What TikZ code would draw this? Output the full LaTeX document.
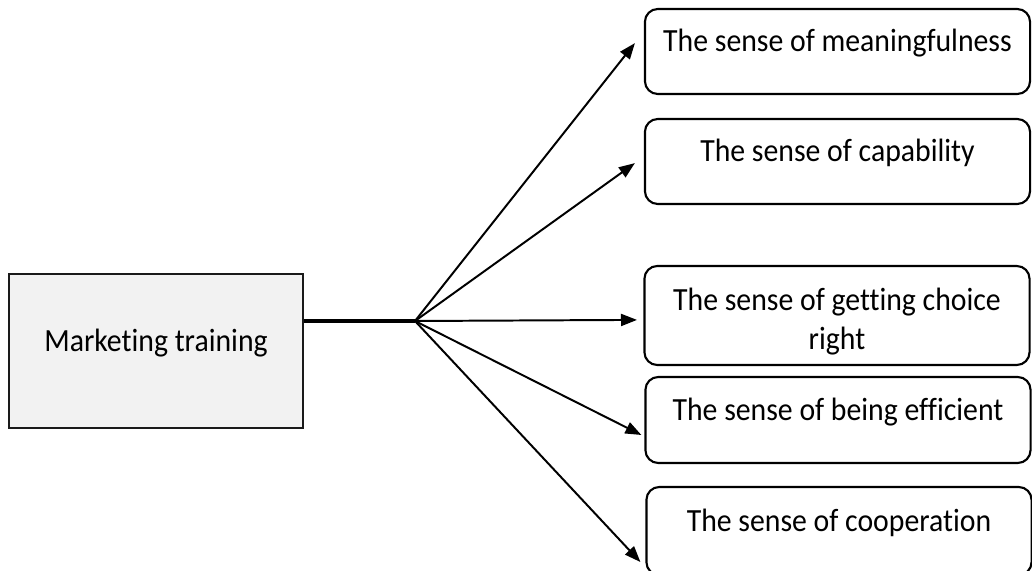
\documentclass[tikz,border=0pt]{standalone}
\usepackage{fontspec}
\setmainfont{Carlito}[FakeStretch=0.92, Ligatures={NoCommon}]
\usetikzlibrary{arrows.meta}
\definecolor{cInk}{HTML}{000000}
\definecolor{cEdge}{HTML}{1A1A1A}
\definecolor{cFill}{HTML}{F2F2F2}
\newcommand\sensefont{\fontsize{23pt}{27.2pt}\selectfont}
\tikzset{
  every picture/.style={line width=1pt},
  sensebox/.style={draw=cInk, line width=1.5pt, rounded corners=0.32cm,
              minimum width=9.625cm, text width=9.3cm, align=flush center,
              inner sep=0pt, font=\sensefont, text=cInk},
  onebox/.style={sensebox, text height=0.55cm, text depth=0.55cm},
  srcbox/.style={draw=cEdge, fill=cFill, line width=1.5pt, minimum width=7.35cm,
              minimum height=3.85cm, inner sep=0pt, font=\sensefont,
              text height=0.55cm, text depth=0.55cm},
  flow/.style={-{Triangle[length=0.4cm,width=0.3cm]}, draw=cInk, line width=1.4pt},
}

\begin{document}
\begin{tikzpicture}[x=0.025cm, y=-0.025cm]
\useasboundingbox (0,0) rectangle (1032,571);
\clip (0,0) rectangle (1032,571);

% source
\node[srcbox] (train) at (156,351) {Marketing training};
\coordinate (hub) at (415,321);

% the five senses
\node[onebox, minimum height=2.125cm] (m1) at (837.5,51.5) {The sense of meaningfulness};
\node[onebox, minimum height=2.125cm] (m2) at (837.5,161.5) {The sense of capability};
\node[sensebox, minimum height=2.475cm, text height=0.55cm, text depth=0.78cm]
      (m3) at (837,315.5) {The sense of getting choice\\right};
\node[onebox, minimum height=2.15cm] (m4) at (838,420) {The sense of being efficient};
\node[onebox, minimum height=2.2cm] (m5) at (839,531) {The sense of cooperation};

% connectors
\draw[draw=cInk, line width=2.2pt] (train.east |- hub) -- (hub);
\draw[flow] (hub) -- ([xshift=-0.225cm,yshift=0.21cm]m1.west);
\draw[flow] (hub) -- ([xshift=-0.225cm,yshift=-0.04cm]m2.west);
\draw[flow] (hub) -- ([xshift=-0.16cm,yshift=-0.11cm]m3.west);
\draw[flow] (hub) -- ([xshift=-0.075cm,yshift=-0.375cm]m4.west);
\draw[flow] (hub) -- ([xshift=-0.125cm,yshift=-0.775cm]m5.west);

\end{tikzpicture}
\end{document}
